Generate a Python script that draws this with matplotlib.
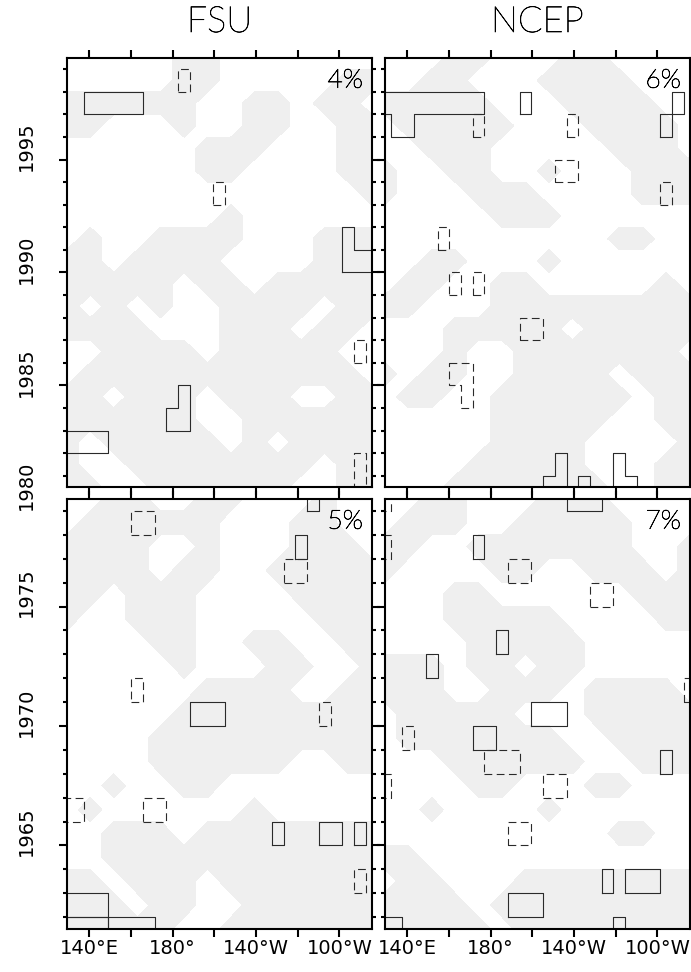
import numpy as np
import matplotlib.pyplot as plt
import matplotlib.patheffects as pe
from matplotlib.ticker import MultipleLocator, FuncFormatter

plt.rcParams['font.family'] = ['DejaVu Sans']

GRAY = '#efefef'
LINE = '#2a2a2a'
DASH = (0, (7, 4))
THIN = ['Lato', 'DejaVu Sans']
THIN_FX = [pe.withStroke(linewidth=0.5, foreground='black')]

# shading field sampled every 11.25 deg
grid_lon = [129.2, 140.45, 151.7, 162.95, 174.2, 185.45, 196.7, 207.95,
            219.2, 230.45, 241.7, 252.95, 264.2, 275.45]
years_top = [1999.5 - i for i in range(20)]
years_bot = [1979.5 - i for i in range(19)]

shade_fsu_top = [
    "00000110000000",
    "00000110000011",
    "11111100110110",
    "11000100110011",
    "00000011100011",
    "00000011000011",
    "00000000000001",
    "00000001000000",
    "01001111000111",
    "11011110000111",
    "11111011011111",
    "10101001111011",
    "11110001110110",
    "00111101111100",
    "01111111111110",
    "11011101110011",
    "11111100111111",
    "10111110101111",
    "10011111111011",
    "11001111110011",
]
shade_ncep_top = [
    "00011000110000",
    "00110001111000",
    "11111000111100",
    "01111100011110",
    "00111000001110",
    "10011001000111",
    "10001110000111",
    "00000111000000",
    "00000000001100",
    "00110001000000",
    "01100110000010",
    "11000111111111",
    "00011111011111",
    "00010011111110",
    "10110011110111",
    "01100111111011",
    "00000111110011",
    "00000111100001",
    "00001111100011",
    "00011111110011",
]
shade_fsu_bot = [
    "00110011000100",
    "01111110001100",
    "11110010001110",
    "11110110011111",
    "11011100001111",
    "10011100000111",
    "00001100110011",
    "00000100011001",
    "00000011110011",
    "00000111111111",
    "00001111111111",
    "00001111110011",
    "00100110000000",
    "01000000100000",
    "00111011111111",
    "00111111111111",
    "11011101111111",
    "11101100111111",
    "11111001111111",
]
shade_ncep_bot = [
    "00110001110000",
    "01110011111000",
    "11001111111001",
    "10000110011101",
    "00011000000111",
    "00011111000011",
    "00001111100000",
    "11101101100000",
    "11100111011110",
    "01111100011111",
    "01111111001111",
    "00011111100111",
    "00001100011000",
    "00100001000000",
    "00000000001100",
    "11000000000000",
    "01100011111111",
    "11110111111111",
    "11111011111111",
]

# significant boxes: (lon0, lon1, year0, year1, dashed)
boxes_fsu_top = [
    (137.6, 165.8, 1997, 1998, False),
    (182.6, 188.3, 1998, 1999, True),
    (199.5, 205.1, 1993, 1994, True),
    (267.0, 272.6, 1986, 1987, True),
    (120.0, 148.9, 1982, 1983, False),
    (267.0, 272.6, 1979, 1982, True),
]
steps_fsu_top = [
    ([261.4, 261.4, 267.0, 267.0, 285.0, 285.0, 261.4],
     [1990, 1992, 1992, 1991, 1991, 1990, 1990], False),
    ([177.0, 188.3, 188.3, 182.6, 182.6, 177.0, 177.0],
     [1983, 1983, 1985, 1985, 1984, 1984, 1983], False),
]
boxes_ncep_top = [
    (193.9, 199.5, 1997, 1998, False),
    (171.4, 177.0, 1996, 1997, True),
    (216.4, 222.0, 1996, 1997, True),
    (261.4, 267.0, 1996, 1997, False),
    (267.0, 272.6, 1997, 1998, False),
    (210.8, 222.0, 1994, 1995, True),
    (261.4, 267.0, 1993, 1994, True),
    (154.5, 160.1, 1991, 1992, True),
    (160.1, 165.8, 1989, 1990, True),
    (171.4, 177.0, 1989, 1990, True),
    (193.9, 205.1, 1987, 1988, True),
    (222.0, 227.6, 1979, 1981, False),
]
steps_ncep_top = [
    ([120.0, 177.0, 177.0, 143.3, 143.3, 132.0, 132.0, 120.0],
     [1998, 1998, 1997, 1997, 1996, 1996, 1997, 1997], False),
    ([160.1, 171.4, 171.4, 165.8, 165.8, 160.1, 160.1],
     [1986, 1986, 1984, 1984, 1985, 1985, 1986], True),
    ([205.1, 205.1, 210.8, 210.8, 216.4, 216.4],
     [1979, 1981, 1981, 1982, 1982, 1979], False),
    ([238.9, 238.9, 244.5, 244.5, 250.1, 250.1],
     [1979, 1982, 1982, 1981, 1981, 1979], False),
]
boxes_fsu_bot = [
    (244.5, 250.1, 1979, 1981, False),
    (160.1, 171.4, 1978, 1979, True),
    (238.9, 244.5, 1977, 1978, False),
    (233.3, 244.5, 1976, 1977, True),
    (160.1, 165.8, 1971, 1972, True),
    (188.3, 205.1, 1970, 1971, False),
    (250.1, 255.8, 1970, 1971, True),
    (120.0, 137.6, 1966, 1967, True),
    (165.8, 177.0, 1966, 1967, True),
    (227.6, 233.3, 1965, 1966, False),
    (250.1, 261.4, 1965, 1966, False),
    (267.0, 272.6, 1965, 1966, False),
    (267.0, 272.6, 1963, 1964, True),
    (120.0, 148.9, 1962, 1963, False),
    (120.0, 148.9, 1960, 1962, False),
    (148.9, 171.4, 1960, 1962, False),
]
steps_fsu_bot = []
boxes_ncep_bot = [
    (216.4, 233.3, 1979, 1981, False),
    (120.0, 132.0, 1979, 1981, True),
    (120.0, 132.0, 1977, 1978, True),
    (171.4, 177.0, 1977, 1978, False),
    (188.3, 199.5, 1976, 1977, True),
    (227.6, 238.9, 1975, 1976, True),
    (182.6, 188.3, 1973, 1974, False),
    (148.9, 154.5, 1972, 1973, False),
    (272.6, 285.0, 1971, 1972, True),
    (199.5, 216.4, 1970, 1971, False),
    (137.6, 143.3, 1969, 1970, True),
    (171.4, 182.6, 1969, 1970, False),
    (177.0, 193.9, 1968, 1969, True),
    (261.4, 267.0, 1968, 1969, False),
    (120.0, 132.0, 1967, 1968, True),
    (205.1, 216.4, 1967, 1968, True),
    (188.3, 199.5, 1965, 1966, True),
    (233.3, 238.9, 1963, 1964, False),
    (244.5, 261.4, 1963, 1964, False),
    (188.3, 205.1, 1962, 1963, False),
    (120.0, 137.6, 1960, 1962, False),
    (238.9, 244.5, 1960, 1962, False),
]
steps_ncep_bot = []

panels = [
    # title, percent, years, shade, boxes, steps, ylim, label years
    ('FSU', '4%', years_top, shade_fsu_top, boxes_fsu_top, steps_fsu_top,
     (1980.5, 1999.5), [1980, 1985, 1990, 1995]),
    ('NCEP', '6%', years_top, shade_ncep_top, boxes_ncep_top, steps_ncep_top,
     (1980.5, 1999.5), []),
    (None, '5%', years_bot, shade_fsu_bot, boxes_fsu_bot, steps_fsu_bot,
     (1961.5, 1979.5), [1965, 1970, 1975]),
    (None, '7%', years_bot, shade_ncep_bot, boxes_ncep_bot, steps_ncep_bot,
     (1961.5, 1979.5), []),
]

W, H = 691, 972
fig = plt.figure(figsize=(W / 100, H / 100), dpi=100)
rects = [
    (67, 58, 305, 429), (385, 58, 305, 429),
    (67, 499, 305, 430), (385, 499, 305, 430),
]

lon_labels = {140: '140°E', 180: '180°', 220: '140°W', 260: '100°W'}

for i, (title, pct, yrs, shade, boxes, steps, ylim, ylabs) in enumerate(panels):
    x0, y0, w, h = rects[i]
    ax = fig.add_axes([x0 / W, 1 - (y0 + h) / H, w / W, h / H])

    z = np.array([[int(c) for c in row] for row in shade], dtype=float)
    ax.contourf(grid_lon, yrs, z, levels=[0.5, 1.5], colors=[GRAY])

    for lo0, lo1, yr0, yr1, dashed in boxes:
        ax.plot([lo0, lo1, lo1, lo0, lo0], [yr0, yr0, yr1, yr1, yr0],
                color=LINE, lw=0.8, ls=DASH if dashed else '-')
    for xs, ys, dashed in steps:
        ax.plot(xs, ys, color=LINE, lw=0.8, ls=DASH if dashed else '-')

    ax.set_xlim(129.3, 275.6)
    ax.set_ylim(*ylim)

    ax.xaxis.set_major_locator(MultipleLocator(20))
    ax.yaxis.set_major_locator(MultipleLocator(5))
    ax.yaxis.set_minor_locator(MultipleLocator(1))
    ax.tick_params(axis='both', which='major', direction='out', length=6,
                   width=1.5, top=True, bottom=True, left=True, right=True,
                   labelleft=False, labelbottom=False)
    ax.tick_params(axis='y', which='minor', direction='out', length=3,
                   width=1.5, left=True, right=True)
    if i >= 2:
        ax.tick_params(axis='x', labelbottom=True, labelsize=14, pad=1)
        ax.xaxis.set_major_formatter(
            FuncFormatter(lambda v, p: lon_labels.get(int(round(v)), '')))
    for s in ax.spines.values():
        s.set_linewidth(1.5)

    for yl in ylabs:
        ax.text(-0.134, yl + 0.58, str(yl), transform=ax.get_yaxis_transform(),
                rotation=90, ha='center', va='center', fontsize=14,
                clip_on=False)

    ax.text(0.970, 0.975, pct, transform=ax.transAxes, ha='right', va='top',
            fontsize=19, family=THIN, fontweight='light', color='black',
            path_effects=THIN_FX)
    if title:
        fig.text((x0 + w / 2) / W, 1 - 22.5 / H, title, ha='center',
                 va='center', fontsize=26, family=THIN, fontweight='light',
                 color='black', path_effects=THIN_FX)

fig.savefig('out.png', dpi=100)
